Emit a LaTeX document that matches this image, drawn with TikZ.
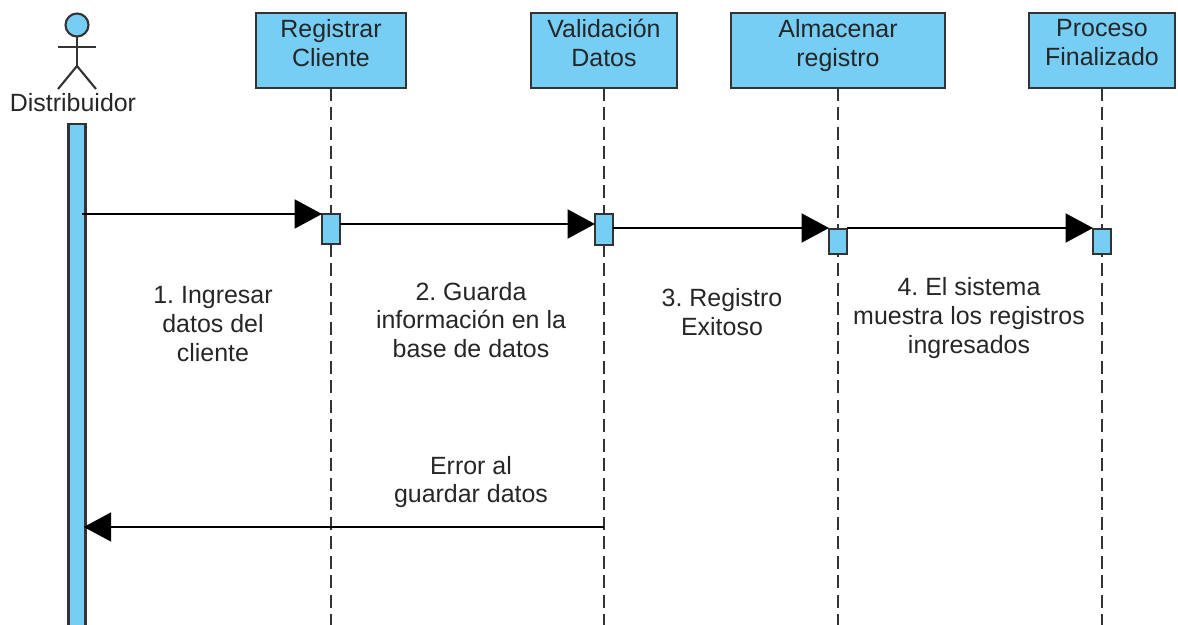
\documentclass[tikz,border=0pt]{standalone}
\usepackage{fontspec}
\setmainfont{Liberation Sans}
\frenchspacing
\usetikzlibrary{arrows.meta,positioning,calc}
\definecolor{lifeblue}{HTML}{76CEF5}
\definecolor{lifedark}{HTML}{333333}
\tikzset{msg/.style={-{Triangle[length=0.55cm,width=0.58cm]}, line width=1.2pt, black},
         lifebox/.style={rectangle,draw=lifedark,fill=lifeblue,line width=1.4pt,align=center,
                         minimum height=1.5cm,inner sep=0pt,outer sep=0pt,text=black!85,
                         font=\fontsize{14.2}{16.4}\selectfont},
         activation/.style={rectangle,draw=lifedark,fill=lifeblue,line width=1.4pt,
                         minimum width=0.36cm,inner sep=0pt,outer sep=0pt},
         lifeline/.style={draw=lifedark,line width=1.3pt,dash pattern=on 0.26cm off 0.13cm},
         stick/.style={draw=lifedark,line width=1.2pt},
         msgtext/.style={align=center,inner sep=0pt,text=black!85,font=\fontsize{14.2}{16.4}\selectfont}
}

\begin{document}
\begin{tikzpicture}[x=0.02cm,y=-0.02cm]
       \useasboundingbox (0,0) rectangle (1178,625);
       \clip (0,0) rectangle (1178,625);
       % actor
       \node[circle,draw=lifedark,fill=lifeblue,line width=1.2pt,minimum size=0.46cm,inner sep=0pt,outer sep=0pt] (head) at (77,25) {};
       \coordinate (hip) at (77,66);
       \coordinate (armL) at (58,47);
       \coordinate (armR) at (96,47);
       \coordinate (footL) at (58,89);
       \coordinate (footR) at (96,89);
       \draw[stick] (head) -- (hip);
       \draw[stick] (armL) -- (armR);
       \draw[stick] (footL) -- (hip) -- (footR);
       \node[msgtext] (distribuidor) at (73,103) {Distribuidor};
       \node[activation,minimum width=0.34cm,minimum height=10.4cm,anchor=north] (bar) at (77,124) {};
       % headers
       \node[lifebox,minimum width=3cm] (registrar) at (331,50.5) {Registrar\\Cliente\\[-7.5pt]\mbox{}};
       \node[lifebox,minimum width=2.92cm] (validacion) at (604,50.5) {Validación\\Datos\\[-7.5pt]\mbox{}};
       \node[lifebox,minimum width=4.28cm] (almacenar) at (838,50.5) {Almacenar\\registro\\[-7.5pt]\mbox{}};
       \node[lifebox,minimum width=2.92cm] (proceso) at (1102,50.5) {Proceso\\Finalizado\\[-7.5pt]\mbox{}};
       % lifelines
       \foreach \n/\e in {registrar/a,validacion/b,almacenar/c,proceso/d}{
          \coordinate (end\e) at ($(\n.south)+(0,540)$);
          \draw[lifeline] (\n.south) -- (end\e);
       }
       % activations
       \node[activation,minimum height=0.6cm,anchor=north] (act1) at (331,214) {};
       \node[activation,minimum height=0.62cm,anchor=north] (act2) at (604,214) {};
       \node[activation,minimum height=0.5cm,anchor=north] (act3) at (838,229) {};
       \node[activation,minimum height=0.5cm,anchor=north] (act4) at (1102,229) {};
       % messages
       \coordinate (m1) at (82,214);
       \coordinate (m2) at (340,224);
       \coordinate (m3) at (613,228);
       \coordinate (m4) at (847,228);
       \coordinate (m5) at (604,527);
       \draw[msg] (m1) -- (m1 -| act1.west);
       \draw[msg] (m2) -- (m2 -| act2.west);
       \draw[msg] (m3) -- (m3 -| act3.west);
       \draw[msg] (m4) -- (m4 -| act4.west);
       \draw[msg,shorten >=-1pt] (m5) -- (m5 -| bar.east);
       % labels
       \node[msgtext] (txt1) at (213,324) {1. Ingresar\\datos del\\cliente};
       \node[msgtext] (txt2) at (471,320) {2. Guarda\\información en la\\base de datos};
       \node[msgtext] (txt3) at (722,312) {3. Registro\\Exitoso};
       \node[msgtext] (txt4) at (969,318) {4. El sistema\\muestra los registros\\ingresados};
       \node[msgtext] (txt5) at (471,482) {Error al\\guardar datos};
     \end{tikzpicture}
\end{document}
